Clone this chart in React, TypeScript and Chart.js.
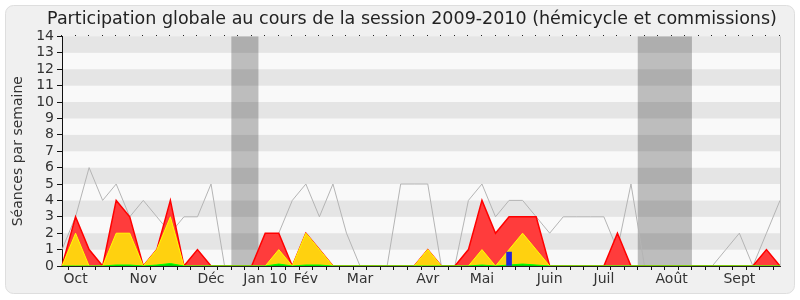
import React, { useEffect, useRef } from 'react';
import { Chart, registerables } from 'chart.js';

Chart.register(...registerables);

const chartTitle = 'Participation globale au cours de la session 2009-2010 (hémicycle et commissions)';
const yAxisTitle = 'Séances par semaine';

const weekCount = 54;
const monthLabelWeeks = [1, 6, 11, 15, 18, 22, 27, 31, 36, 40, 45, 50];
const monthLabelNames = ['Oct', 'Nov', 'Déc', 'Jan 10', 'Fév', 'Mar', 'Avr', 'Mai', 'Juin', 'Juil', 'Août', 'Sept'];

const yMax = 14;

// gray line: séances par semaine
const seances = [
  1, 3, 6, 4, 5, 3, 4, 3, 2, 3, 3, 5, 0, 0, 0, 0, 2, 4, 5, 3, 5, 2, 0, 0, 0, 5, 5,
  5, 0, 0, 4, 5, 3, 4, 4, 3, 2, 3, 3, 3, 3, 1, 5, 0, 0, 0, 0, 0, 0, 1, 2, 0, 2, 4,
];
// red area: présences
const presences = [
  0, 3, 1, 0, 4, 3, 0, 1, 4, 0, 1, 0, 0, 0, 0, 2, 2, 0, 2, 1, 0, 0, 0, 0, 0, 0, 0,
  1, 0, 0, 1, 4, 2, 3, 3, 3, 0, 0, 0, 0, 0, 2, 0, 0, 0, 0, 0, 0, 0, 0, 0, 0, 1, 0,
];
// yellow area: participations
const participations = [
  0, 2, 0, 0, 2, 2, 0, 1, 3, 0, 0, 0, 0, 0, 0, 0, 1, 0, 2, 1, 0, 0, 0, 0, 0, 0, 0,
  1, 0, 0, 0, 1, 0, 1, 2, 1, 0, 0, 0, 0, 0, 0, 0, 0, 0, 0, 0, 0, 0, 0, 0, 0, 0, 0,
];
// green area: small values
const interventions = [
  0, 0, 0, 0, 0.06, 0.06, 0, 0.06, 0.15, 0, 0, 0, 0, 0, 0, 0, 0.12, 0, 0.06, 0.06, 0, 0, 0, 0, 0, 0, 0,
  0, 0, 0, 0, 0.06, 0, 0.06, 0.12, 0.06, 0, 0, 0, 0, 0, 0, 0, 0, 0, 0, 0, 0, 0, 0, 0, 0, 0, 0,
];
// blue bars
const questions = [
  null, null, null, null, null, null, null, null, null, null, null, null, null, null, null, null, null, null, null, null, null, null, null, null, null, null, null,
  null, null, null, null, null, null, 0.85, null, null, null, null, null, null, null, null, null, null, null, null, null, null, null, null, null, null, null, null,
];

const vacationStart = [12.5, 42.5];
const vacationEnd = [14.5, 46.5];

const FONT = '"DejaVu Sans", Verdana, sans-serif';

const decorPlugin = {
  id: 'decor',
  beforeDraw(chart: any) {
    const { ctx, chartArea: a, scales } = chart;
    const x = scales.x;
    const y = scales.y;
    ctx.save();
    ctx.fillStyle = '#ffffff';
    ctx.fillRect(0, 0, chart.width, chart.height);
    ctx.beginPath();
    ctx.roundRect(5.5, 5.5, chart.width - 11, chart.height - 12, 8);
    ctx.fillStyle = '#f0f0f0';
    ctx.fill();
    ctx.strokeStyle = '#dedede';
    ctx.lineWidth = 1;
    ctx.stroke();

    for (let v = 0; v < yMax; v++) {
      const top = y.getPixelForValue(v + 1);
      const bottom = y.getPixelForValue(v);
      ctx.fillStyle = v % 2 === 1 ? '#e5e5e5' : '#f9f9f9';
      ctx.fillRect(a.left, top, a.right - a.left, bottom - top);
    }
    for (let k = 0; k < vacationStart.length; k++) {
      const x0 = x.getPixelForValue(vacationStart[k]);
      const x1 = x.getPixelForValue(vacationEnd[k]);
      ctx.fillStyle = 'rgba(0,0,0,0.24)';
      ctx.fillRect(x0, a.top, x1 - x0, a.bottom - a.top);
    }

    ctx.fillStyle = '#222';
    ctx.font = '17.5px ' + FONT;
    ctx.textAlign = 'center';
    ctx.textBaseline = 'middle';
    ctx.fillText(chartTitle, 412, 19);
    ctx.restore();
  },
  afterDraw(chart: any) {
    const { ctx, chartArea: a, scales } = chart;
    const x = scales.x;
    ctx.save();
    ctx.fillStyle = '#222';
    for (let i = 0; i < weekCount; i++) {
      const px = Math.round(x.getPixelForValue(i));
      ctx.fillRect(px - 1, Math.round(a.top) - 1, 1, 1);
    }
    ctx.strokeStyle = '#c8c8c8';
    ctx.lineWidth = 1;
    ctx.beginPath();
    ctx.moveTo(Math.round(a.right) + 0.5, a.top);
    ctx.lineTo(Math.round(a.right) + 0.5, a.bottom);
    ctx.stroke();
    ctx.restore();
  },
};

export default function App() {
  const canvasRef = useRef<HTMLCanvasElement | null>(null);

  useEffect(() => {
    const canvas = canvasRef.current;
    if (!canvas) return;
    Chart.defaults.font.family = FONT;
    const labels = Array.from({ length: weekCount }, (_, i) => {
      const k = monthLabelWeeks.indexOf(i);
      return k >= 0 ? monthLabelNames[k] : '';
    });
    const chart = new Chart(canvas, {
      type: 'line',
      data: {
        labels,
        datasets: [
          {
            type: 'bar',
            label: 'Questions',
            data: questions as any,
            backgroundColor: '#2424d8',
            borderWidth: 0,
            barThickness: 5,
            order: 1,
          } as any,
          {
            label: 'Interventions',
            data: interventions,
            borderColor: '#00ff00',
            backgroundColor: '#00dd00',
            borderWidth: 1,
            fill: 'origin',
            pointRadius: 0,
            tension: 0,
            order: 2,
          },
          {
            label: 'Participations',
            data: participations,
            borderColor: '#ffff00',
            backgroundColor: '#ffd10f',
            borderWidth: 1,
            fill: 'origin',
            pointRadius: 0,
            tension: 0,
            order: 3,
          },
          {
            label: 'Présences',
            data: presences,
            borderColor: '#ff0000',
            backgroundColor: '#ff3c3c',
            borderWidth: 1.5,
            fill: 'origin',
            pointRadius: 0,
            tension: 0,
            order: 4,
          },
          {
            label: 'Séances',
            data: seances,
            borderColor: '#b4b4b4',
            borderWidth: 1,
            fill: false,
            pointRadius: 0,
            tension: 0,
            order: 5,
          },
        ],
      },
      options: {
        animation: false,
        responsive: false,
        maintainAspectRatio: false,
        layout: { padding: { left: 0, right: 20, top: 36.4, bottom: 0 } },
        plugins: {
          legend: { display: false },
          title: { display: false },
          tooltip: { enabled: false },
        },
        scales: {
          x: {
            type: 'category',
            offset: false,
            grid: {
              display: true,
              drawOnChartArea: false,
              drawTicks: true,
              tickLength: 4,
              color: '#111',
            },
            border: { display: true, color: '#222', width: 1 },
            ticks: {
              autoSkip: false,
              maxRotation: 0,
              minRotation: 0,
              padding: 1,
              color: '#333',
              font: { size: 14, family: FONT },
            },
            afterFit(scale: any) {
              scale.height = 34;
            },
          },
          y: {
            min: 0,
            max: yMax,
            grid: {
              display: true,
              drawOnChartArea: false,
              drawTicks: true,
              tickLength: 5,
              color: '#111',
            },
            border: { display: true, color: '#111', width: 1 },
            ticks: {
              stepSize: 1,
              autoSkip: false,
              padding: 3,
              color: '#333',
              font: { size: 14, family: FONT },
            },
            title: {
              display: true,
              text: yAxisTitle,
              color: '#333',
              font: { size: 14, family: FONT },
              padding: { top: 10, bottom: 0 },
            },
            afterFit(scale: any) {
              scale.width = 62;
            },
          },
        },
      } as any,
      plugins: [decorPlugin],
    });
    return () => chart.destroy();
  }, []);

  return (
    <div style={{ position: 'fixed', left: 0, top: 0, width: 800, height: 300 }}>
      <canvas ref={canvasRef} width={800} height={300} style={{ width: 800, height: 300, display: 'block' }} />
    </div>
  );
}
